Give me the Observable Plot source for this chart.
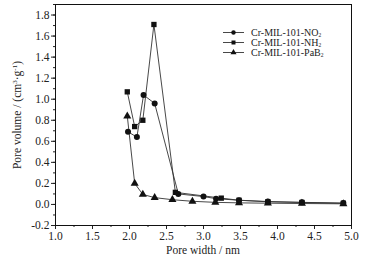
<!DOCTYPE html>
<html><head><meta charset="utf-8">
<script src="https://cdn.jsdelivr.net/npm/d3@7"></script>
<script src="https://cdn.jsdelivr.net/npm/@observablehq/plot@0.6"></script>
<style>body{margin:0;background:#fff} svg{display:block} svg text{font-family:"Liberation Serif",serif !important}</style>
</head><body><div id="chart"></div>
<script>
const seriesNames = ["Cr-MIL-101-NO2", "Cr-MIL-101-NH2", "Cr-MIL-101-PaB2"];
const seriesSymbols = ["circle", "square", "triangle"];

const no2Width  = [1.98, 2.10, 2.19, 2.34, 2.66, 3.00, 3.17, 3.48, 3.87, 4.33, 4.89];
const no2Volume = [0.69, 0.64, 1.04, 0.96, 0.10, 0.075, 0.055, 0.04, 0.028, 0.02, 0.013];

const nh2Width  = [1.97, 2.07, 2.18, 2.33, 2.62, 3.24, 3.48, 3.87, 4.33, 4.89];
const nh2Volume = [1.07, 0.74, 0.80, 1.71, 0.115, 0.06, 0.04, 0.025, 0.019, 0.011];

const pabWidth  = [1.97, 2.07, 2.18, 2.34, 2.58, 2.85, 3.16, 3.48, 3.87, 4.33, 4.89];
const pabVolume = [0.84, 0.20, 0.095, 0.065, 0.045, 0.03, 0.02, 0.015, 0.012, 0.009, 0.006];

const xTicks = [1.0, 1.5, 2.0, 2.5, 3.0, 3.5, 4.0, 4.5, 5.0];
const xMinor = d3.range(1.0, 5.001, 0.25);
const yTicks = [-0.2, 0.0, 0.2, 0.4, 0.6, 0.8, 1.0, 1.2, 1.4, 1.6, 1.8];
const yMinor = d3.range(-0.2, 1.901, 0.1);

const data = [];
[[no2Width, no2Volume], [nh2Width, nh2Volume], [pabWidth, pabVolume]].forEach(([w, v], i) => {
  w.forEach((x, j) => data.push({series: seriesNames[i], symbol: seriesSymbols[i], x, y: v[j]}));
});

const fmt = d => d.toFixed(1);
const plot = Plot.plot({
  width: 370, height: 264,
  marginLeft: 55, marginRight: 19, marginTop: 4, marginBottom: 39,
  style: "font-family: 'Liberation Serif', serif; font-size: 11px; color: #222; background: #fff;",
  x: {domain: [1.0, 5.0]},
  y: {domain: [-0.2, 1.9]},
  symbol: {domain: seriesSymbols, range: seriesSymbols},
  marks: [
    Plot.axisX(xMinor, {tickSize: 2, text: null, label: null}),
    Plot.axisX(xTicks, {tickSize: 4, tickPadding: 2, tickFormat: fmt, label: null, fontSize: 11.5}),
    Plot.axisY(yMinor, {tickSize: 2, text: null, label: null}),
    Plot.axisY(yTicks, {tickSize: 4, tickPadding: 2, tickFormat: fmt, label: null, fontSize: 11.5}),
    Plot.frame({stroke: "#111", strokeWidth: 1}),
    Plot.line(data, {x: "x", y: "y", z: "series", stroke: "#333", strokeWidth: 0.9}),
    Plot.dot(data, {x: "x", y: "y", symbol: "symbol", fill: "#111", stroke: "none", r: 3})
  ]
});
document.getElementById("chart").appendChild(plot);

const svg = d3.select(plot);
// axis labels
svg.append("text").attr("x", 203).attr("y", 254).attr("text-anchor", "middle")
  .attr("font-size", 11.5).attr("fill", "#222").text("Pore width / nm");
const yl = svg.append("text").attr("transform", "translate(21,115) rotate(-90)")
  .attr("text-anchor", "middle").attr("font-size", 11.5).attr("fill", "#222");
yl.append("tspan").text("Pore volume / (cm");
yl.append("tspan").attr("dy", -4).attr("font-size", 7).text("3");
yl.append("tspan").attr("dy", 4).text("·g");
yl.append("tspan").attr("dy", -4).attr("font-size", 7).text("-1");
yl.append("tspan").attr("dy", 4).text(")");

// legend
const legendY = [32.5, 42.5, 52.5];
seriesNames.forEach((name, i) => {
  const g = svg.append("g").attr("transform", `translate(0,${legendY[i]})`);
  g.append("line").attr("x1", 223).attr("x2", 244).attr("y1", 0).attr("y2", 0)
    .attr("stroke", "#333").attr("stroke-width", 0.9);
  g.append("path").attr("transform", "translate(233.5,0)")
    .attr("d", d3.symbol(i === 0 ? d3.symbolCircle : i === 1 ? d3.symbolSquare : d3.symbolTriangle, 16)())
    .attr("fill", "#111");
  const t = g.append("text").attr("x", 251).attr("y", 3.3).attr("text-anchor", "start")
    .attr("font-size", 10).attr("fill", "#222");
  t.append("tspan").text(name.slice(0, -1));
  t.append("tspan").attr("dy", 1.5).attr("font-size", 5.5).text("2");
});
</script></body></html>
